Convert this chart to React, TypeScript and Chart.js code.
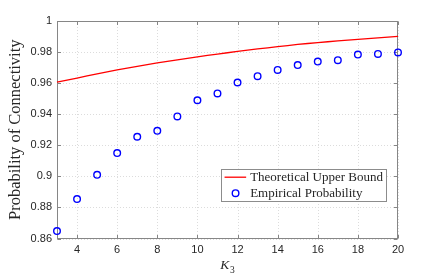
import React, { useEffect, useRef } from "react";
import { Chart, registerables } from "chart.js";

Chart.register(...registerables);

const kValues = [3, 4, 5, 6, 7, 8, 9, 10, 11, 12, 13, 14, 15, 16, 17, 18, 19, 20];
const upperBound = [0.9606, 0.9633, 0.966, 0.9686, 0.9708, 0.973, 0.975, 0.9769, 0.9787, 0.9804, 0.982, 0.9835, 0.9849, 0.9861, 0.9872, 0.9882, 0.9892, 0.9901];
const empirical = [0.8648, 0.8854, 0.901, 0.915, 0.9255, 0.9293, 0.9386, 0.949, 0.9534, 0.9604, 0.9645, 0.9685, 0.9716, 0.9739, 0.9748, 0.9784, 0.9788, 0.9798];
const xTicks = [4, 6, 8, 10, 12, 14, 16, 18, 20];
const yTicks = [0.86, 0.88, 0.9, 0.92, 0.94, 0.96, 0.98, 1];
const yTickLabels = ["0.86", "0.88", "0.9", "0.92", "0.94", "0.96", "0.98", "1"];
const seriesLabels = ["Theoretical Upper Bound", "Empirical Probability"];
const yTitle = "Probability of Connectivity";
const xTitleMain = "K";
const xTitleSub = "3";

const AXIS_COLOR = "#868686";
const TEXT_COLOR = "#262626";
const SERIF = "'Liberation Serif', 'Times New Roman', serif";

const framePlugin = {
  id: "matlabFrame",
  beforeDatasetsDraw(chart: any) {
    const { ctx, chartArea: a, scales } = chart;
    const xs = scales.x;
    const ys = scales.y;
    ctx.save();
    // dotted grid
    ctx.strokeStyle = "#dcdcdc";
    ctx.lineWidth = 1;
    ctx.setLineDash([1, 2]);
    xs.ticks.forEach((t: any) => {
      const px = Math.round(xs.getPixelForValue(t.value)) + 0.5;
      ctx.beginPath();
      ctx.moveTo(px, a.top);
      ctx.lineTo(px, a.bottom);
      ctx.stroke();
    });
    ys.ticks.forEach((t: any) => {
      const py = Math.round(ys.getPixelForValue(t.value)) + 0.5;
      ctx.beginPath();
      ctx.moveTo(a.left, py);
      ctx.lineTo(a.right, py);
      ctx.stroke();
    });
    ctx.setLineDash([]);
    // box
    const l = Math.round(a.left) + 0.5;
    const r = Math.round(a.right) - 0.5;
    const t = Math.round(a.top) + 0.5;
    const b = Math.round(a.bottom) - 0.5;
    ctx.strokeStyle = AXIS_COLOR;
    ctx.lineWidth = 1;
    ctx.strokeRect(l, t, r - l, b - t);
    // inward tick marks
    const tl = 3.5;
    ctx.beginPath();
    xs.ticks.forEach((tk: any) => {
      const px = Math.round(xs.getPixelForValue(tk.value)) + 0.5;
      ctx.moveTo(px, b);
      ctx.lineTo(px, b - tl);
      ctx.moveTo(px, t);
      ctx.lineTo(px, t + tl);
    });
    ys.ticks.forEach((tk: any) => {
      const py = Math.round(ys.getPixelForValue(tk.value)) + 0.5;
      ctx.moveTo(l, py);
      ctx.lineTo(l + tl, py);
      ctx.moveTo(r, py);
      ctx.lineTo(r - tl, py);
    });
    ctx.stroke();
    ctx.restore();
  },
  afterDraw(chart: any) {
    const { ctx, chartArea: a } = chart;
    const ds = chart.data.datasets;
    ctx.save();
    // x title with subscript
    ctx.fillStyle = TEXT_COLOR;
    ctx.textBaseline = "alphabetic";
    ctx.font = `italic 13.5px ${SERIF}`;
    const kw = ctx.measureText(xTitleMain).width;
    ctx.font = `9.5px ${SERIF}`;
    const sw = ctx.measureText(xTitleSub).width;
    const cx = (a.left + a.right) / 2;
    const startX = cx - (kw + sw + 0.5) / 2;
    ctx.font = `italic 13.5px ${SERIF}`;
    ctx.fillText(xTitleMain, startX, 269.3);
    ctx.font = `9.5px ${SERIF}`;
    ctx.fillText(xTitleSub, startX + kw + 0.5, 272.7);

    // legend
    ctx.font = `13px ${SERIF}`;
    const textW = Math.max(...ds.map((d: any) => ctx.measureText(d.label).width));
    const boxW = 29.3 + textW + 4;
    const boxH = 33;
    const right = Math.round(a.right) - 11;
    const top = Math.round(a.bottom) - 37.5 - boxH;
    const left = right - boxW;
    ctx.fillStyle = "#ffffff";
    ctx.fillRect(left, top, boxW, boxH);
    ctx.strokeStyle = "#8c8c8c";
    ctx.lineWidth = 1;
    ctx.strokeRect(Math.round(left) + 0.5, Math.round(top) + 0.5, Math.round(boxW) - 1, Math.round(boxH) - 1);
    const row1 = top + 8.7;
    const row2 = top + 24.7;
    // line sample
    ctx.strokeStyle = ds[0].borderColor;
    ctx.lineWidth = ds[0].borderWidth;
    ctx.beginPath();
    ctx.moveTo(left + 3.7, row1);
    ctx.lineTo(left + 25.3, row1);
    ctx.stroke();
    // marker sample
    ctx.strokeStyle = ds[1].borderColor;
    ctx.lineWidth = ds[1].borderWidth;
    ctx.beginPath();
    ctx.arc(left + 14.7, row2, ds[1].pointRadius, 0, Math.PI * 2);
    ctx.stroke();
    ctx.fillStyle = TEXT_COLOR;
    ctx.textBaseline = "middle";
    ctx.textAlign = "left";
    ctx.fillText(ds[0].label, left + 29.3, row1 + 0.5);
    ctx.fillText(ds[1].label, left + 29.3, row2 + 0.5);
    ctx.restore();
  },
};

export default function App() {
  const canvasRef = useRef<HTMLCanvasElement | null>(null);

  useEffect(() => {
    const canvas = canvasRef.current;
    if (!canvas) return;
    const chart = new Chart(canvas, {
      type: "scatter",
      data: {
        datasets: [
          {
            type: "line",
            label: seriesLabels[0],
            data: kValues.map((k, i) => ({ x: k, y: upperBound[i] })),
            borderColor: "#ff0000",
            backgroundColor: "#ff0000",
            borderWidth: 1.3,
            pointRadius: 0,
            tension: 0.2,
            fill: false,
            clip: false,
          } as any,
          {
            type: "scatter",
            label: seriesLabels[1],
            data: kValues.map((k, i) => ({ x: k, y: empirical[i] })),
            borderColor: "#0000ff",
            backgroundColor: "rgba(0,0,0,0)",
            borderWidth: 1.4,
            pointRadius: 3.3,
            pointHoverRadius: 3.3,
            clip: false,
          } as any,
        ],
      },
      options: {
        responsive: false,
        animation: false,
        events: [],
        layout: { padding: { left: 0, top: 21, right: 42, bottom: 0 } },
        plugins: {
          legend: { display: false },
          tooltip: { enabled: false },
          title: { display: false },
        },
        scales: {
          x: {
            type: "linear",
            min: 3,
            max: 20,
            grid: { display: false, drawTicks: false },
            border: { display: false },
            afterBuildTicks: (scale: any) => {
              scale.ticks = xTicks.map((v) => ({ value: v }));
            },
            afterFit: (scale: any) => {
              scale.height = 36.5;
            },
            ticks: {
              autoSkip: false,
              maxRotation: 0,
              padding: 5,
              color: TEXT_COLOR,
              font: { family: "'Liberation Sans', Arial, sans-serif", size: 11 },
              callback: (v: any) => String(v),
            },
          },
          y: {
            type: "linear",
            min: 0.86,
            max: 1,
            grid: { display: false, drawTicks: false },
            border: { display: false },
            afterBuildTicks: (scale: any) => {
              scale.ticks = yTicks.map((v) => ({ value: v }));
            },
            afterFit: (scale: any) => {
              scale.width = 57;
            },
            title: {
              display: true,
              text: yTitle,
              color: TEXT_COLOR,
              font: { family: SERIF, size: 16.5, weight: "normal" },
              padding: { top: 5.5, bottom: 0 },
            },
            ticks: {
              autoSkip: false,
              padding: 5,
              color: TEXT_COLOR,
              font: { family: "'Liberation Sans', Arial, sans-serif", size: 11 },
              callback: (v: any) => {
                const idx = yTicks.findIndex((t) => Math.abs(t - Number(v)) < 1e-9);
                return idx >= 0 ? yTickLabels[idx] : "";
              },
            },
          },
        },
      },
      plugins: [framePlugin],
    });
    return () => chart.destroy();
  }, []);

  return (
    <div style={{ position: "fixed", left: 0, top: 0, width: 440, height: 275, background: "#ffffff" }}>
      <canvas ref={canvasRef} width={440} height={275} style={{ display: "block", width: 440, height: 275 }} />
    </div>
  );
}
